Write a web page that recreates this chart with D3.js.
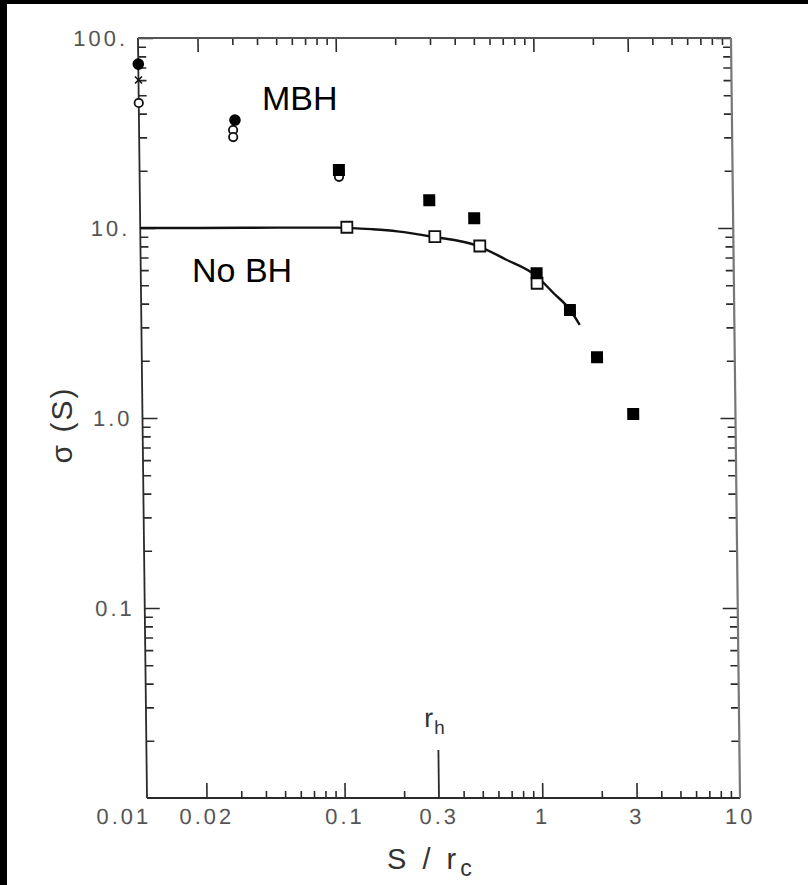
<!DOCTYPE html>
<html>
<head>
<meta charset="utf-8">
<script src="https://cdn.jsdelivr.net/npm/d3@7/dist/d3.min.js"></script>
<style>
  html, body { margin: 0; padding: 0; background: #fff; }
  svg { display: block; }
</style>
</head>
<body>
<svg id="chart" width="808" height="885"></svg>
<script>
// ---------------- data ----------------
const xTickValues = [0.01, 0.02, 0.1, 0.3, 1, 3, 10];
const xTickLabels = ["0.01", "0.02", "0.1", "0.3", "1", "3", "10"];
const yTickValues = [0.1, 1, 10, 100];
const yTickLabels = ["0.1", "1.0", "10.", "100."];

// MBH model (filled symbols)
const mbhSquareS     = [0.102, 0.291, 0.49, 1.006, 1.476, 2.01, 3.04];
const mbhSquareSigma = [20.2, 14.0, 11.25, 5.78, 3.70, 2.09, 1.05];
const mbhCircleS     = [0.01, 0.0306];
const mbhCircleSigma = [72.9, 37.0];
const mbhCrossS      = [0.01];
const mbhCrossSigma  = [60.1];
const openCircleS     = [0.01, 0.0299, 0.0299, 0.102];
const openCircleSigma = [45.5, 32.8, 30.1, 18.6];

// No BH model (open squares + curve)
const noBhS     = [0.111, 0.309, 0.521, 1.01];
const noBhSigma = [10.09, 9.0, 8.04, 5.12];
const curveS     = [0.01, 0.02, 0.05, 0.1, 0.15, 0.2, 0.3, 0.5, 0.7, 1.0, 1.22, 1.48, 1.65];
const curveSigma = [10.0, 10.0, 10.05, 10.05, 9.85, 9.6, 9.0, 8.1, 6.85, 5.6, 4.55, 3.7, 3.09];

const rhValue = 0.3;

// ---------------- layout ----------------
const svg = d3.select("#chart");
const L = 147, R = 740, T = 38, B = 798;
const x = d3.scaleLog().domain([0.01, 10]).range([L, R]);
const y = d3.scaleLog().domain([0.01, 100]).range([B, T]);

// black scan borders
svg.append("rect").attr("x", 0).attr("y", 0).attr("width", 808).attr("height", 4).attr("fill", "#000");
svg.append("rect").attr("x", 0).attr("y", 0).attr("width", 7).attr("height", 885).attr("fill", "#000");

// slight shear like the scanned original
const g = svg.append("g")
  .attr("transform", `translate(0,${B}) skewX(0.68) translate(0,${-B})`);

const axisColor = "#2a2a2a";
const labelColor = "#555";
const tickFont = "'Liberation Sans', Arial, sans-serif";

function minors(lo, hi) {
  const out = [];
  for (let e = Math.log10(lo); e < Math.log10(hi); e++) {
    for (let m = 2; m <= 9; m++) out.push(m * Math.pow(10, Math.round(e)));
  }
  return out;
}
const xMajor = [0.02, 0.1, 1, 3];
const xMinor = minors(0.01, 10).filter(v => !xMajor.some(m => Math.abs(m - v) / m < 1e-6) && Math.abs(v - rhValue) > 1e-6);
const yMinor = minors(0.01, 100);

function styleAxis(sel) {
  sel.select(".domain").remove();
  sel.selectAll("line").attr("stroke", axisColor).attr("stroke-width", 1.6);
  sel.selectAll("text").remove();
}

// bottom axis
g.append("g").attr("transform", `translate(0,${B})`)
  .call(d3.axisBottom(x).tickValues(xMinor).tickSizeInner(-7).tickSizeOuter(0)).call(styleAxis);
g.append("g").attr("transform", `translate(0,${B})`)
  .call(d3.axisBottom(x).tickValues(xMajor).tickSizeInner(-15).tickSizeOuter(0)).call(styleAxis);
// top axis
g.append("g").attr("transform", `translate(0,${T})`)
  .call(d3.axisTop(x).tickValues(xMinor.concat([rhValue])).tickSizeInner(-7).tickSizeOuter(0)).call(styleAxis);
g.append("g").attr("transform", `translate(0,${T})`)
  .call(d3.axisTop(x).tickValues(xMajor).tickSizeInner(-14).tickSizeOuter(0)).call(styleAxis);
// left axis
g.append("g").attr("transform", `translate(${L},0)`)
  .call(d3.axisLeft(y).tickValues(yMinor).tickSizeInner(-8).tickSizeOuter(0)).call(styleAxis);
g.append("g").attr("transform", `translate(${L},0)`)
  .call(d3.axisLeft(y).tickValues(yTickValues).tickSizeInner(-15).tickSizeOuter(0)).call(styleAxis);
// right axis
g.append("g").attr("transform", `translate(${R},0)`)
  .call(d3.axisRight(y).tickValues(yMinor).tickSizeInner(-8).tickSizeOuter(0)).call(styleAxis);
g.append("g").attr("transform", `translate(${R},0)`)
  .call(d3.axisRight(y).tickValues(yTickValues).tickSizeInner(-15).tickSizeOuter(0)).call(styleAxis);

// frame
g.append("line").attr("x1", L).attr("x2", R).attr("y1", B).attr("y2", B).attr("stroke", axisColor).attr("stroke-width", 1.8);
g.append("line").attr("x1", L).attr("x2", L).attr("y1", T).attr("y2", B).attr("stroke", axisColor).attr("stroke-width", 1.8);
g.append("line").attr("x1", L).attr("x2", R).attr("y1", T).attr("y2", T).attr("stroke", "#555").attr("stroke-width", 2.2);
g.append("line").attr("x1", R).attr("x2", R).attr("y1", T).attr("y2", B).attr("stroke", "#777").attr("stroke-width", 2.2);

// r_h marker
g.append("line").attr("x1", x(rhValue)).attr("x2", x(rhValue)).attr("y1", B - 48).attr("y2", B)
  .attr("stroke", axisColor).attr("stroke-width", 1.8);
const rh = g.append("text").attr("x", x(rhValue) - 14).attr("y", B - 71)
  .attr("font-family", tickFont).attr("font-size", 27).attr("fill", "#333");
rh.append("tspan").text("r");
rh.append("tspan").attr("font-size", 19).attr("dy", 7).attr("dx", 1).text("h");

// x tick labels
g.selectAll(".xlab").data(xTickValues).enter().append("text")
  .attr("class", "xlab")
  .attr("x", (d, i) => i === 0 ? x(d) + 4 : x(d))
  .attr("y", B + 26)
  .attr("text-anchor", (d, i) => i === 0 ? "end" : "middle")
  .attr("font-family", tickFont).attr("font-size", 22).attr("letter-spacing", 3)
  .attr("fill", labelColor)
  .text((d, i) => xTickLabels[i]);

// y tick labels
g.selectAll(".ylab").data(yTickValues).enter().append("text")
  .attr("class", "ylab")
  .attr("x", L - 10)
  .attr("y", d => y(d) + 8)
  .attr("text-anchor", "end")
  .attr("font-family", tickFont).attr("font-size", 22).attr("letter-spacing", 3)
  .attr("fill", labelColor)
  .text((d, i) => yTickLabels[i]);

// axis titles
const xt = svg.append("text").attr("x", 387).attr("y", 869)
  .attr("font-family", tickFont).attr("font-size", 29).attr("letter-spacing", 4).attr("fill", "#333");
xt.append("tspan").text("S / r");
xt.append("tspan").attr("font-size", 23).attr("dy", 7).text("c");

svg.append("text").attr("transform", "translate(72,425) rotate(-90)")
  .attr("text-anchor", "middle")
  .attr("font-family", tickFont).attr("font-size", 30).attr("letter-spacing", 2).attr("fill", "#333")
  .text("σ (S)");

// curve (No BH)
const line = d3.line().x(d => x(d[0])).y(d => y(d[1])).curve(d3.curveMonotoneX);
g.append("path").datum(curveS.map((s, i) => [s, curveSigma[i]]))
  .attr("d", line).attr("fill", "none").attr("stroke", "#111").attr("stroke-width", 2.4);

// open squares (No BH)
const sq = 11;
g.selectAll(".nobh").data(noBhS.map((s, i) => [s, noBhSigma[i]])).enter().append("rect")
  .attr("x", d => x(d[0]) - sq / 2).attr("y", d => y(d[1]) - sq / 2)
  .attr("width", sq).attr("height", sq)
  .attr("fill", "#fff").attr("stroke", "#111").attr("stroke-width", 1.8);

// open circles (MBH)
g.selectAll(".ocirc").data(openCircleS.map((s, i) => [s, openCircleSigma[i]])).enter().append("circle")
  .attr("cx", d => x(d[0])).attr("cy", d => y(d[1])).attr("r", 4.2)
  .attr("fill", "#fff").attr("stroke", "#111").attr("stroke-width", 1.8);

// filled squares (MBH)
g.selectAll(".mbhsq").data(mbhSquareS.map((s, i) => [s, mbhSquareSigma[i]])).enter().append("rect")
  .attr("x", d => x(d[0]) - 6).attr("y", d => y(d[1]) - 6)
  .attr("width", 12).attr("height", 12).attr("fill", "#000");

// filled circles (MBH)
g.selectAll(".mbhc").data(mbhCircleS.map((s, i) => [s, mbhCircleSigma[i]])).enter().append("circle")
  .attr("cx", d => x(d[0])).attr("cy", d => y(d[1])).attr("r", 5.8).attr("fill", "#000");

// cross marker
g.selectAll(".cross").data(mbhCrossS.map((s, i) => [s, mbhCrossSigma[i]])).enter().append("path")
  .attr("d", d => { const cx = x(d[0]), cy = y(d[1]), h = 3.5;
    return `M${cx - h},${cy - h}L${cx + h},${cy + h}M${cx - h},${cy + h}L${cx + h},${cy - h}`; })
  .attr("stroke", "#111").attr("stroke-width", 1.6);

// annotations
svg.append("text").attr("x", 262).attr("y", 110)
  .attr("font-family", "'Liberation Sans', Arial, sans-serif").attr("font-size", 34).attr("fill", "#000")
  .text("MBH");
svg.append("text").attr("x", 192).attr("y", 282)
  .attr("font-family", "'Liberation Sans', Arial, sans-serif").attr("font-size", 34).attr("fill", "#000")
  .text("No BH");
</script>
</body>
</html>
